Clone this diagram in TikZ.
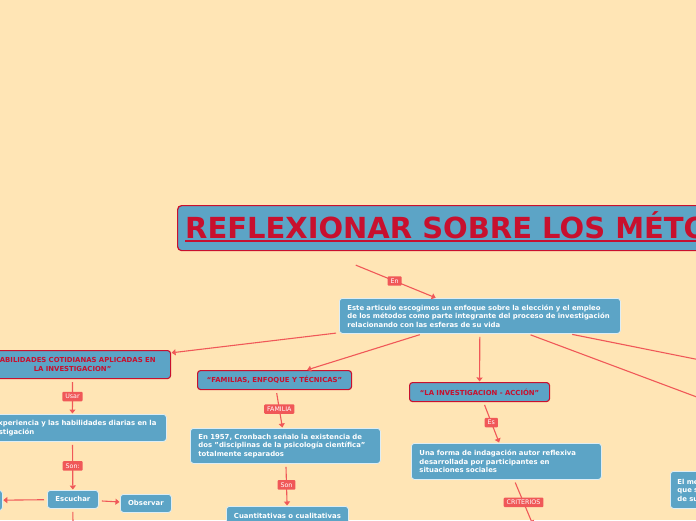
\documentclass[tikz,border=0pt]{standalone}
\usepackage{fontspec}
\setmainfont{DejaVu Sans}
\usepackage{xcolor}
\usetikzlibrary{arrows.meta}
\definecolor{bgpeach}{RGB}{255,229,181}
\definecolor{boxblue}{RGB}{92,164,198}
\definecolor{crimson}{RGB}{200,16,46}
\definecolor{linkred}{RGB}{240,88,88}
\newcommand{\thickul}[1]{\setbox0\hbox{#1}\rlap{\copy0}\rule[-3.8pt]{\wd0}{1.8pt}}

\begin{document}
\begin{tikzpicture}[x=1pt,y=-1pt,
  box/.style={fill=boxblue, draw=white!80!boxblue, line width=0.8pt, rounded corners=3pt,
    text=white, font=\bfseries\fontsize{6.9}{8.6}\selectfont, inner xsep=8pt, inner ysep=0pt,
    align=left, anchor=north west},
  catbox/.style={box, draw=crimson, line width=1.1pt, text=crimson, align=center},
  lbl/.style={fill=linkred, text=white, font=\fontsize{6.3}{6.5}\selectfont, inner xsep=3pt,
    inner ysep=2.4pt, rounded corners=1pt},
  link/.style={draw=linkred, line width=1.1pt, -{Triangle[width=6pt,length=4pt]},
    shorten <=3pt, shorten >=0.5pt}]
  \useasboundingbox (0,0) rectangle (696,520);
  \clip (0,0) rectangle (696,520);
  \fill[bgpeach] (0,0) rectangle (696,520);

  \node[catbox, minimum width=560pt, minimum height=45pt, line width=1.2pt,
    rounded corners=4pt] (title) at (177,205) {};
  \node[anchor=base west, text=crimson, inner sep=0pt,
    font=\bfseries\fontsize{29}{30}\selectfont] (titletext) at (185,238)
    {\thickul{REFLEXIONAR SOBRE LOS MÉTODOS}};
  \coordinate (t1) at (353,264);

  \node[box, text width=265pt, minimum height=35pt] (main) at (339,298)
    {Este articulo escogimos un enfoque sobre la elección y el empleo\\
     de los métodos como parte integrante del proceso de investigación\\
     relacionando con las esferas de su vida};

  \node[catbox, text width=182pt, minimum height=28pt, inner xsep=7pt] (habil) at (-26,350)
    {“HABILIDADES COTIDIANAS APLICADAS EN\\LA INVESTIGACION”};
  \node[box, text width=180pt, minimum height=27pt, inner xsep=4pt] (exper) at (-22,414)
    {La experiencia y las habilidades diarias en la\\investigación};
  \node[box, align=center, minimum width=51pt, minimum height=18pt, inner xsep=2pt] (escuchar)
    at (47,490) {Escuchar};
  \node[box, align=center, minimum width=51pt, minimum height=18pt, inner xsep=2pt] (observar)
    at (120,494) {Observar};
  \node[box, minimum width=42pt, minimum height=20pt, inner xsep=2pt] (otro) at (-40,490) {};
  \coordinate (escdown) at (73,540);

  \node[catbox, minimum width=154pt, minimum height=19pt, inner xsep=2pt] (familias) at (197,370)
    {“FAMILIAS, ENFOQUE Y TÉCNICAS”};
  \node[box, text width=174pt, minimum height=35pt] (cronbach) at (190,428)
    {En 1957, Cronbach señalo la existencia de\\
     dos "disciplinas de la psicología científica"\\
     totalmente separados};
  \node[box, align=center, minimum width=122pt, minimum height=20pt, inner xsep=2pt] (cuanti)
    at (226,506) {Cuantitativas o cualitativas};

  \node[catbox, minimum width=140pt, minimum height=19pt, inner xsep=2pt] (accion) at (409,382)
    {“LA INVESTIGACION - ACCIÓN”};
  \node[box, text width=174pt, minimum height=36pt] (indaga) at (411,443)
    {Una forma de indagación autor reflexiva\\
     desarrollada por participantes en\\
     situaciones sociales};
  \coordinate (critnext) at (533,525);

  \node[box, text width=110pt, minimum height=37pt, inner xsep=7pt] (metodo) at (670,471)
    {El método\\que se\\de su};
  \coordinate (rfar1) at (900,473);
  \coordinate (rfar2) at (900,400);

  \draw[link] (t1) -- node[lbl] (lblen) {En} (main);
  \draw[link] (main) -- (habil);
  \draw[link] (main) -- (familias);
  \draw[link] (main) -- (accion);
  \draw[link] (main) -- (rfar1);
  \draw[link] (main) -- (rfar2);
  \draw[link] (habil) -- node[lbl] (lblusar) {Usar} (exper);
  \draw[link] (exper) -- node[lbl] (lblson) {Son:} (escuchar);
  \draw[link] (escuchar) -- (otro);
  \draw[link] (escuchar) -- (observar);
  \draw[link] (escuchar) -- (escdown);
  \draw[link] (familias) -- node[lbl] (lblfam) {FAMILIA} (cronbach);
  \draw[link] (cronbach) -- node[lbl] (lblsonb) {Son} (cuanti);
  \draw[link] (accion) -- node[lbl] (lbles) {Es} (indaga);
  \draw[link] (indaga) -- node[lbl] (lblcrit) {CRITERIOS} (critnext);
\end{tikzpicture}
\end{document}
